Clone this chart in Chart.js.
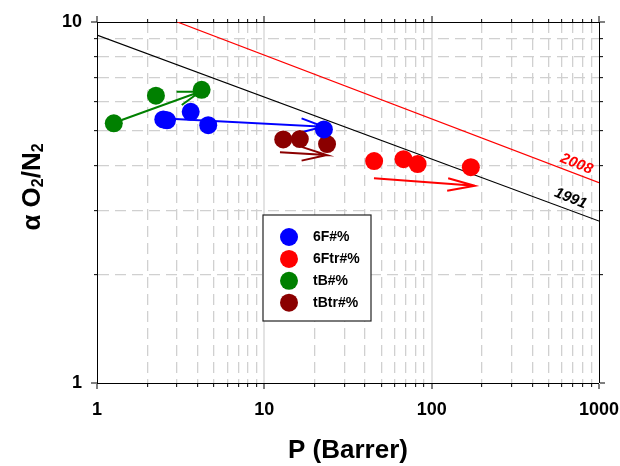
<!DOCTYPE html>
<html>
<head>
<meta charset="utf-8">
<script src="https://cdn.jsdelivr.net/npm/chart.js@4.4.1/dist/chart.umd.min.js"></script>
<style>
  html, body { margin: 0; padding: 0; background: #fff; }
  canvas { display: block; }
</style>
</head>
<body>
<canvas id="chart" width="620" height="466"></canvas>
<script>
// Log-axis tick positions and the ones that carry a label
const xTickValues = [1, 2, 3, 4, 5, 6, 7, 8, 9, 10, 20, 30, 40, 50, 60, 70, 80, 90,
                     100, 200, 300, 400, 500, 600, 700, 800, 900, 1000];
const yTickValues = [1, 2, 3, 4, 5, 6, 7, 8, 9, 10];
const xLabelValues = [1, 10, 100, 1000];
const yLabelValues = [1, 10];

// Series names
const seriesNames = ['6F#%', '6Ftr#%', 'tB#%', 'tBtr#%'];

// O2 permeability P (Barrer) and O2/N2 selectivity per membrane family
const p6F = [2.49, 2.62, 3.63, 4.62, 22.7];
const a6F = [5.37, 5.34, 5.64, 5.18, 5.04];
const p6Ftr = [45.3, 67.9, 82.4, 171.4];
const a6Ftr = [4.12, 4.17, 4.04, 3.96];
const pTB = [1.26, 2.25, 4.22];
const aTB = [5.24, 6.25, 6.49];
const pTBtr = [12.97, 16.3, 23.7];
const aTBtr = [4.73, 4.74, 4.59];

// Robeson upper bounds (1991 and 2008)
const bound1991P = [1, 1000];
const bound1991A = [9.2, 2.81];
const bound2008P = [3.02, 1000];
const bound2008A = [10, 3.59];

// Trend arrows: shaft start, tip, barb, tip, barb
const arrowTBP = [1.405, 4.125, 2.99, 4.125, 3.21];
const arrowTBA = [5.35, 6.41, 6.41, 6.41, 5.89];
const arrow6FP = [2.92, 22.5, 16.7, 22.5, 16.7];
const arrow6FA = [5.39, 5.13, 5.41, 5.13, 4.95];
const arrowTBtrP = [12.4, 23.6, 16.7, 23.6, 16.7];
const arrowTBtrA = [4.36, 4.28, 4.51, 4.28, 4.13];
const arrow6FtrP = [45.2, 181, 125.5, 181, 123.8];
const arrow6FtrA = [3.69, 3.52, 3.69, 3.52, 3.41];

const pts = (xs, ys) => xs.map((x, i) => ({ x: x, y: ys[i] }));

const FONT = "'Liberation Sans', Arial, Helvetica, sans-serif";
Chart.defaults.font.family = FONT;
Chart.defaults.color = '#000';

const COLORS = { blue: '#0000ff', red: '#ff0000', green: '#008000', darkred: '#8b0000' };

function pointSet(label, xs, ys, color) {
  return {
    label: label, data: pts(xs, ys), inLegend: true, order: 0,
    backgroundColor: color, borderColor: color, borderWidth: 0,
    pointRadius: 9, pointHoverRadius: 9, showLine: false
  };
}
function polySet(xs, ys, color, width, order, extra) {
  return Object.assign({
    data: pts(xs, ys), showLine: true, fill: false, tension: 0, order: order,
    borderColor: color, backgroundColor: color, borderWidth: width,
    pointRadius: 0, pointHoverRadius: 0
  }, extra || {});
}

// Helpers for grid / tick styling on the log axes
const isDecade = v => [1, 10, 100, 1000].includes(v);
function gridStyle(edges, outerFirst) {
  const edge = c => c.tick && edges.includes(c.tick.value);
  return {
    color: c => (c.tick && isDecade(c.tick.value)) ? '#e3e3e3' : '#d0d0d0',
    lineWidth: c => edge(c) ? 0 : ((c.tick && isDecade(c.tick.value)) ? 2 : 1.3),
    tickLength: 6,
    tickWidth: 1,
    tickColor: '#000',
    tickBorderDash: c => (c.tick && isDecade(c.tick.value)) ? [] : (outerFirst ? [0, 3, 3, 30] : [3, 30])
  };
}
function borderStyle() {
  return {
    display: true, color: '#000', width: 1,
    dash: c => (c.tick && !isDecade(c.tick.value)) ? [11, 6] : []
  };
}
const setXTicks = s => { s.ticks = xTickValues.map(v => ({ value: v })); };
const setYTicks = s => { s.ticks = yTickValues.map(v => ({ value: v })); };

// Y-axis title with subscripts
const subscriptTitle = {
  id: 'subscriptTitle',
  afterDraw(chart, args, o) {
    const ctx = chart.ctx;
    const big = 'bold 26px ' + FONT, small = 'bold 16px ' + FONT;
    ctx.save();
    ctx.translate(o.x, o.y);
    ctx.rotate(-Math.PI / 2);
    ctx.fillStyle = '#000';
    ctx.textBaseline = 'alphabetic';
    ctx.textAlign = 'left';
    let total = 0;
    const widths = o.parts.map(p => {
      ctx.font = p.sub ? small : big;
      const w = ctx.measureText(p.text).width;
      total += w;
      return w;
    });
    let x = -total / 2;
    o.parts.forEach((p, i) => {
      ctx.font = p.sub ? small : big;
      ctx.fillText(p.text, x, p.sub ? o.subDrop : 0);
      x += widths[i];
    });
    ctx.restore();
  }
};

// Framed legend inside the plot
const boxLegend = {
  id: 'boxLegend',
  afterDatasetsDraw(chart, args, o) {
    const ctx = chart.ctx;
    const items = chart.data.datasets.filter(d => d.inLegend);
    ctx.save();
    ctx.fillStyle = '#fff';
    ctx.fillRect(o.left, o.top, o.width, o.height);
    ctx.strokeStyle = '#222';
    ctx.lineWidth = 1.2;
    ctx.strokeRect(o.left, o.top, o.width, o.height);
    items.forEach((d, i) => {
      const y = o.firstRow + i * o.rowGap;
      ctx.beginPath();
      ctx.arc(o.markX, y, o.markR, 0, Math.PI * 2);
      ctx.fillStyle = d.backgroundColor;
      ctx.fill();
      ctx.fillStyle = '#000';
      ctx.font = 'bold 14px ' + FONT;
      ctx.textAlign = 'left';
      ctx.textBaseline = 'middle';
      ctx.fillText(d.label, o.textX, y);
    });
    ctx.restore();
  }
};

// Year tags placed just above each bound line, following its slope
const lineTags = {
  id: 'lineTags',
  afterDatasetsDraw(chart, args, o) {
    const ctx = chart.ctx, xs = chart.scales.x, ys = chart.scales.y;
    chart.data.datasets.forEach(d => {
      if (!d.tag) return;
      const a = d.data[0], b = d.data[d.data.length - 1];
      const x0 = xs.getPixelForValue(a.x), y0 = ys.getPixelForValue(a.y);
      const x1 = xs.getPixelForValue(b.x), y1 = ys.getPixelForValue(b.y);
      const ang = Math.atan2(y1 - y0, x1 - x0);
      const px = xs.getPixelForValue(d.tagAt);
      const py = y0 + (px - x0) / (x1 - x0) * (y1 - y0);
      ctx.save();
      ctx.translate(px, py - d.tagLift);
      ctx.rotate(ang + o.extraTilt);
      ctx.font = 'italic bold 15px ' + FONT;
      ctx.fillStyle = d.borderColor;
      ctx.textAlign = 'center';
      ctx.textBaseline = 'middle';
      ctx.fillText(d.tag, 0, 0);
      ctx.restore();
    });
  }
};

new Chart(document.getElementById('chart'), {
  type: 'scatter',
  data: {
    datasets: [
      pointSet(seriesNames[0], p6F, a6F, COLORS.blue),
      pointSet(seriesNames[1], p6Ftr, a6Ftr, COLORS.red),
      pointSet(seriesNames[2], pTB, aTB, COLORS.green),
      pointSet(seriesNames[3], pTBtr, aTBtr, COLORS.darkred),
      polySet(arrowTBP, arrowTBA, COLORS.green, 2, 1),
      polySet(arrow6FP, arrow6FA, COLORS.blue, 2, 1),
      polySet(arrowTBtrP, arrowTBtrA, COLORS.darkred, 2, 1),
      polySet(arrow6FtrP, arrow6FtrA, COLORS.red, 2, 1),
      polySet(bound1991P, bound1991A, '#000000', 1.2, 2, { tag: '1991', tagAt: 676, tagLift: 12 }),
      polySet(bound2008P, bound2008A, '#ff0000', 1.2, 2, { tag: '2008', tagAt: 734, tagLift: 10 })
    ]
  },
  options: {
    responsive: false,
    animation: false,
    events: [],
    layout: { padding: 0 },
    plugins: {
      legend: { display: false },
      tooltip: { enabled: false },
      subscriptTitle: {
        x: 39.5, y: 187, subDrop: 3.5,
        parts: [
          { text: 'α O' }, { text: '2', sub: true },
          { text: '/N' }, { text: '2', sub: true }
        ]
      },
      boxLegend: {
        left: 263, top: 215, width: 108, height: 106,
        markX: 289, markR: 9, textX: 313, firstRow: 237, rowGap: 21.9
      },
      lineTags: { extraTilt: 0.03 }
    },
    scales: {
      x: {
        type: 'logarithmic', position: 'bottom', axis: 'x',
        min: 1, max: 1000,
        afterBuildTicks: setXTicks,
        afterFit: s => { s.height = 83; s.paddingLeft = 0; s.paddingRight = 0; },
        ticks: {
          autoSkip: false, maxRotation: 0, minRotation: 0, padding: 10,
          font: { size: 18, weight: 'bold' }, color: '#000',
          callback: v => xLabelValues.includes(v) ? String(v) : ''
        },
        grid: gridStyle([1, 1000], false),
        border: borderStyle(),
        title: {
          display: true, text: 'P (Barrer)', color: '#000',
          font: { size: 26, weight: 'bold', lineHeight: 1 },
          padding: { top: 0, bottom: 2 }
        }
      },
      x2: {
        type: 'logarithmic', position: 'top', axis: 'x',
        min: 1, max: 1000,
        afterBuildTicks: setXTicks,
        afterFit: s => { s.height = 22; s.paddingLeft = 0; s.paddingRight = 0; },
        ticks: { display: false, autoSkip: false },
        grid: Object.assign(gridStyle([1, 1000], true), { drawOnChartArea: false }),
        border: borderStyle()
      },
      y: {
        type: 'logarithmic', position: 'left', axis: 'y',
        min: 1, max: 10,
        afterBuildTicks: setYTicks,
        afterFit: s => { s.width = 97; s.paddingTop = 0; s.paddingBottom = 0; },
        ticks: {
          autoSkip: false, padding: 9,
          font: { size: 18, weight: 'bold' }, color: '#000',
          callback: v => yLabelValues.includes(v) ? String(v) : ''
        },
        grid: gridStyle([1, 10], true),
        border: borderStyle()
      },
      y2: {
        type: 'logarithmic', position: 'right', axis: 'y',
        min: 1, max: 10,
        afterBuildTicks: setYTicks,
        afterFit: s => { s.width = 21; s.paddingTop = 0; s.paddingBottom = 0; },
        ticks: { display: false, autoSkip: false },
        grid: Object.assign(gridStyle([1, 10], false), { drawOnChartArea: false }),
        border: borderStyle()
      }
    }
  },
  plugins: [subscriptTitle, boxLegend, lineTags]
});
</script>
</body>
</html>
